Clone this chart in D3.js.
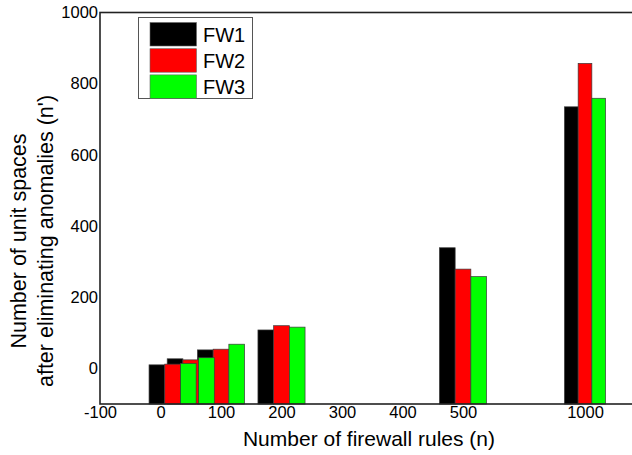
<!DOCTYPE html>
<html>
<head>
<meta charset="utf-8">
<script src="https://cdn.jsdelivr.net/npm/d3@7"></script>
<style>
  body { margin: 0; background: #fff; }
  text { font-family: "Liberation Sans", Arial, sans-serif; fill: #000; }
</style>
</head>
<body>
<script>
// Define data
const ruleCounts = [20, 50, 100, 200, 500, 1000];
const series = ['FW1', 'FW2', 'FW3'];
const fw1 = [10, 27, 52, 108, 339, 735];
const fw2 = [12, 24, 54, 120, 279, 857];
const fw3 = [14, 30, 68, 116, 258, 759];
const colors = ['#000000', '#ff0000', '#00ff00'];
const xTicks = [-100, 0, 100, 200, 300, 400, 500, 1000];
const yTicks = [0, 200, 400, 600, 800, 1000];

let width = 632,
    height = 455;

let margin = { top: 12.5, right: 0, bottom: 51, left: 100 };

let svg = d3.select('body')
  .append('svg')
    .attr('width', width)
    .attr('height', height);

// Scales (axis is broken after 500)
let xScale = d3.scaleLinear()
  .domain([-100, 500, 1000])
  .range([margin.left, 463, 585]);

let yScale = d3.scaleLinear()
  .domain([-100, 1000])
  .range([height - margin.bottom, margin.top]);

let bw = x => x > 500 ? 13.7 : 15.7;

// Bars, drawn series by series
let valueSets = [fw1, fw2, fw3];
series.forEach(function(name, i) {
  svg.append('g')
    .selectAll('rect')
    .data(ruleCounts.map((x, j) => ({ x: x, v: valueSets[i][j] })))
    .enter()
    .append('rect')
      .attr('x', d => xScale(d.x) + (i - 1.5) * bw(d.x))
      .attr('y', d => yScale(d.v))
      .attr('width', d => bw(d.x))
      .attr('height', d => yScale(-100) - yScale(d.v))
      .attr('fill', colors[i])
      .attr('stroke', '#3a3a3a')
      .attr('stroke-width', 0.7);
});

// Frame
svg.append('rect')
  .attr('x', margin.left)
  .attr('y', margin.top)
  .attr('width', 600)
  .attr('height', yScale(-100) - margin.top)
  .attr('fill', 'none')
  .attr('stroke', '#222')
  .attr('stroke-width', 1.6);

// Axes
let xAxis = svg.append('g')
  .attr('transform', `translate(0,${yScale(-100)})`)
  .call(d3.axisBottom(xScale).tickValues(xTicks).tickSize(0).tickPadding(2.5).tickFormat(d => String(d)));

let yAxis = svg.append('g')
  .attr('transform', `translate(${margin.left},0)`)
  .call(d3.axisLeft(yScale).tickValues(yTicks).tickSize(0).tickPadding(2).tickFormat(d => String(d)));

[xAxis, yAxis].forEach(function(a) {
  a.select('.domain').remove();
  a.selectAll('text')
    .style('font-size', '16.5px')
    .attr('fill', '#111')
    .style('font-family', '"Liberation Sans", Arial, sans-serif');
});

// Axis labels
svg.append('text')
  .attr('x', 369)
  .attr('y', 446)
  .attr('text-anchor', 'middle')
  .style('font-size', '21px')
  .text('Number of firewall rules (n)');

let yLabel = svg.append('text')
  .attr('transform', 'translate(26,241) rotate(-90)')
  .attr('text-anchor', 'middle')
  .style('font-size', '21.5px');
yLabel.append('tspan').attr('x', 0).attr('y', 0).text('Number of unit spaces');
yLabel.append('tspan').attr('x', 0).attr('y', 26.5).text("after eliminating anomalies (n')");

// Legend
let legend = svg.append('g');
legend.append('rect')
  .attr('x', 138.5)
  .attr('y', 17.5)
  .attr('width', 114)
  .attr('height', 81)
  .attr('fill', '#fff')
  .attr('stroke', '#555')
  .attr('stroke-width', 1);

series.forEach(function(name, i) {
  legend.append('rect')
    .attr('x', 150)
    .attr('y', 22.5 + i * 26.2)
    .attr('width', 46.5)
    .attr('height', 23.5)
    .attr('fill', colors[i])
    .attr('stroke', '#666')
    .attr('stroke-width', 0.6);
  legend.append('text')
    .attr('x', 203)
    .attr('y', 34.5 + i * 26)
    .attr('dy', '0.36em')
    .style('font-size', '20px')
    .text(name);
});
</script>
</body>
</html>
